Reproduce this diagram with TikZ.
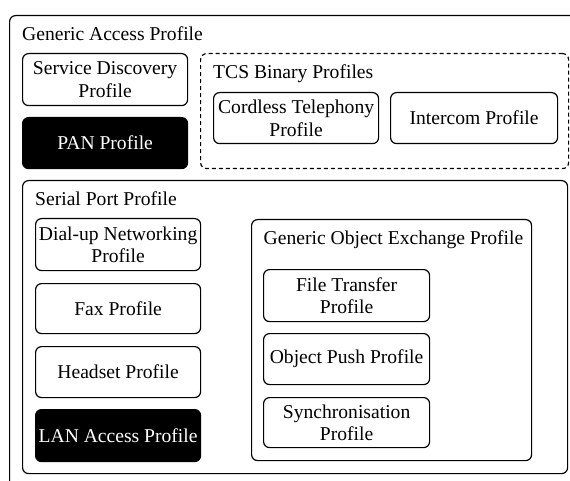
\documentclass[tikz,border=0pt]{standalone}
\usepackage{fontspec}
\setmainfont{Liberation Serif}
\begin{document}
\begin{tikzpicture}[x=1pt,y=-1pt,
  every node/.style={font=\rmfamily\fontsize{19.6}{22.5}\selectfont},
  frame/.style={draw, line width=1.2pt, rounded corners=6pt},
  profile/.style={frame, align=center, inner sep=0pt, anchor=north west},
  dark/.style={profile, fill=black, text=white},
  group/.style={frame, inner sep=0pt, anchor=north west},
  caption/.style={anchor=base west, inner sep=0pt}]
\useasboundingbox (0,0) rectangle (570,481);
\clip (0,0) rectangle (570,481);
\fill[white] (0,0) rectangle (570,481);

% Generic Access Profile frame (runs past the right and bottom edges)
\node[group, minimum width=580pt, minimum height=500pt] (gap) at (9,15) {};
\node[caption] (gapl) at (22,40.5) {Generic Access Profile};

% Top row
\node[profile, minimum width=165pt, minimum height=52pt] (sdp) at (22,53) {Service Discovery\\Profile};
\node[dark, minimum width=165pt, minimum height=51pt] (pan) at (22,117) {PAN Profile};

% TCS Binary profiles (dashed group)
\node[group, dash pattern=on 4pt off 3pt, minimum width=368pt, minimum height=115pt] (tcs) at (200,53) {};
\node[caption] (tcsl) at (213,79) {TCS Binary Profiles};
\node[profile, minimum width=165pt, minimum height=51pt] (ctp) at (213,92) {Cordless Telephony\\Profile};
\node[profile, minimum width=167pt, minimum height=51pt] (icp) at (390,92) {Intercom Profile};

% Serial Port Profile
\node[group, minimum width=545pt, minimum height=293pt] (spp) at (22,180) {};
\node[caption] (sppl) at (35,206) {Serial Port Profile};
\node[profile, minimum width=165pt, minimum height=52pt] (dun) at (35,218) {Dial-up Networking\\Profile};
\node[profile, minimum width=165pt, minimum height=50pt] (fax) at (35,283) {Fax Profile};
\node[profile, minimum width=165pt, minimum height=51pt] (hsp) at (35,346) {Headset Profile};
\node[dark, minimum width=165pt, minimum height=52pt] (lan) at (35,409) {LAN Access Profile};

% Generic Object Exchange Profile
\node[group, minimum width=280pt, minimum height=241pt] (goep) at (251,219) {};
\node[caption] (goepl) at (263.5,244) {Generic Object Exchange Profile};
\node[profile, minimum width=166pt, minimum height=52pt] (ftp) at (263,269) {File Transfer\\Profile};
\node[profile, minimum width=166pt, minimum height=51pt] (opp) at (263,333) {Object Push Profile};
\node[profile, minimum width=166pt, minimum height=50pt] (sync) at (263,397) {Synchronisation\\Profile};
\end{tikzpicture}
\end{document}
